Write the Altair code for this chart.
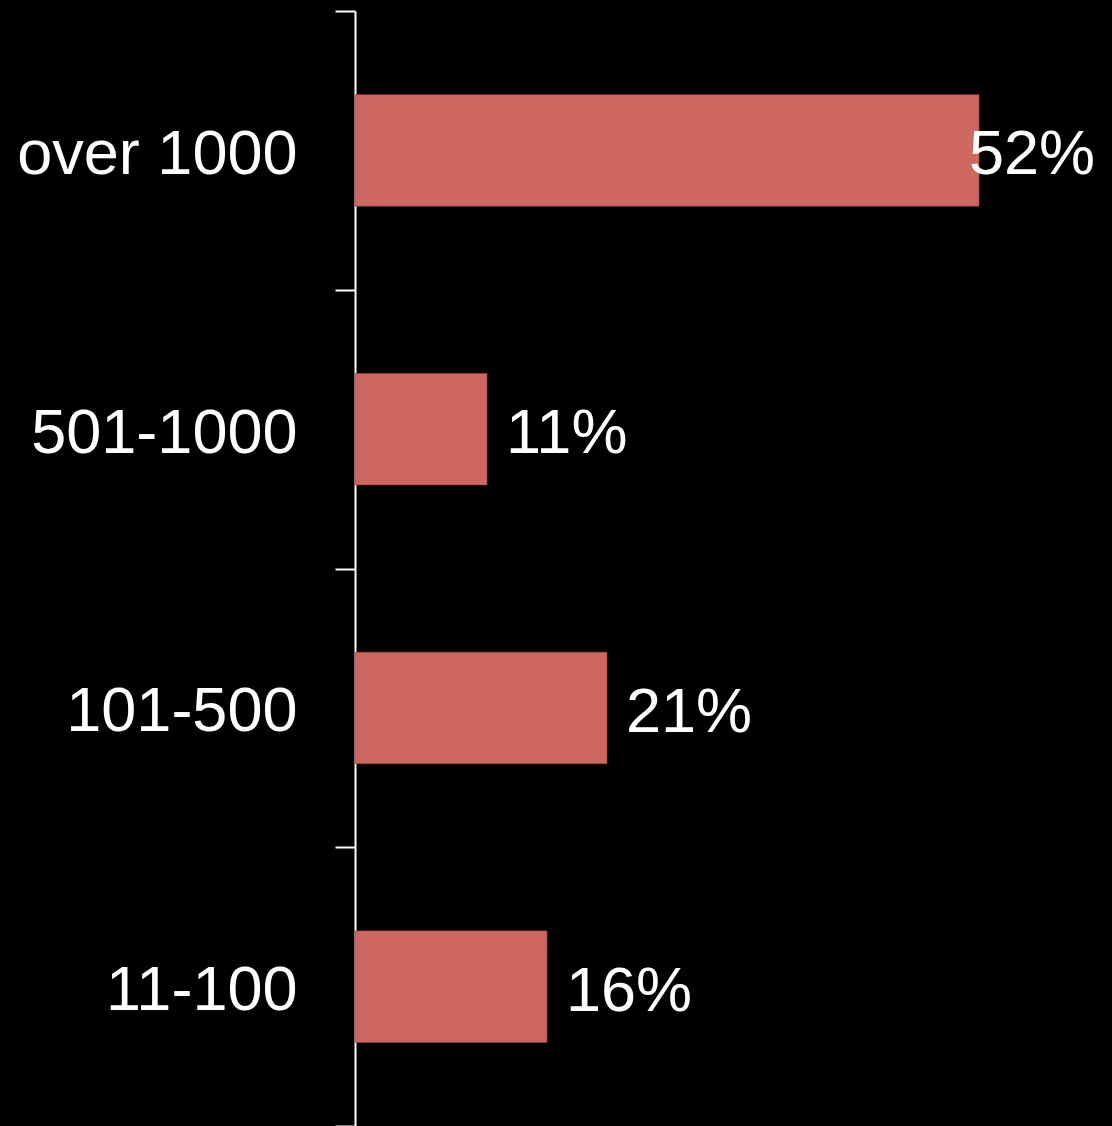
import altair as alt
import pandas as pd

categories = ["over 1000", "501-1000", "101-500", "11-100"]
values = [52, 11, 21, 16]
labels = ["52%", "11%", "21%", "16%"]

df = pd.DataFrame({"cat": categories, "value": values, "label": labels})

FONT = "Liberation Sans"
FS = 63

y_enc = alt.Y(
    "cat:N",
    sort=categories,
    scale=alt.Scale(paddingInner=0, paddingOuter=0),
    axis=alt.Axis(
        title=None,
        tickBand="extent",
        domainColor="white",
        domainWidth=2,
        tickColor="white",
        tickWidth=2,
        tickSize=20,
        labelColor="white",
        labelFont=FONT,
        labelFontSize=FS,
        labelPadding=38,
        labelOffset=4,
        labelLimit=0,
        grid=False,
    ),
)
x_scale = alt.Scale(domain=[0, 757 / 12], nice=False, zero=True)

bars = alt.Chart(df).mark_bar(
    height=alt.RelativeBandSize(0.4),
    color="#cd6760",
    stroke="#9a4c46",
    strokeWidth=0.6,
).encode(
    x=alt.X("value:Q", scale=x_scale, axis=None),
    y=y_enc,
)

text_left = alt.Chart(df).transform_filter("datum.value <= 50").mark_text(
    align="left", baseline="middle", dx=19, dy=5, font=FONT, fontSize=FS, color="white"
).encode(
    x=alt.X("value:Q", scale=x_scale, axis=None),
    y=alt.Y("cat:N", sort=categories),
    text="label:N",
)

text_right = alt.Chart(df).transform_filter("datum.value > 50").mark_text(
    align="right", baseline="middle", dx=116, dy=5, font=FONT, fontSize=FS, color="white"
).encode(
    x=alt.X("value:Q", scale=x_scale, axis=None),
    y=alt.Y("cat:N", sort=categories),
    text="label:N",
)

chart = alt.layer(bars, text_left, text_right).properties(
    width=757,
    height=1115,
    background="black",
    padding={"left": 355, "top": 11, "right": 0, "bottom": 0},
    autosize=alt.AutoSizeParams(type="none"),
).configure_view(stroke=None)

chart.save("out.html", embed_options={"renderer": "svg", "actions": False})
